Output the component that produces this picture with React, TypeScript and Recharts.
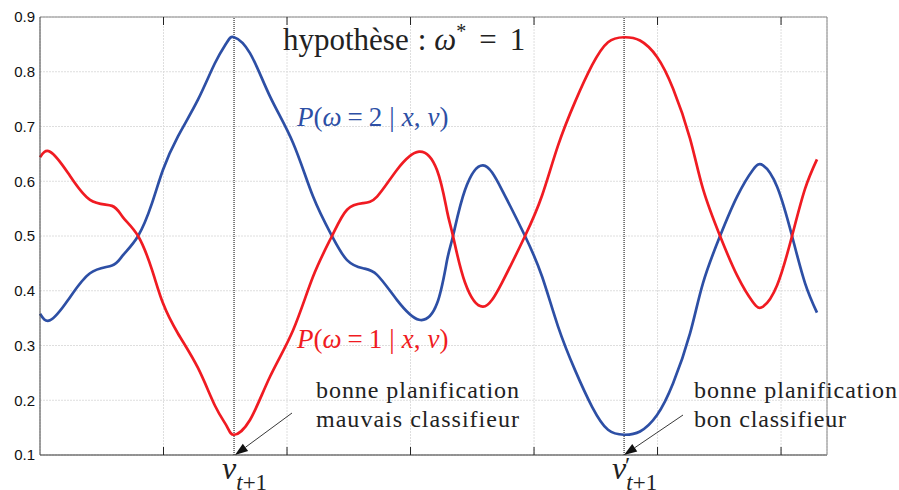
import { LineChart, Line, XAxis, YAxis, CartesianGrid, ReferenceLine } from "recharts";

// sample positions along v (0 .. 2π)
const vPos = [
  0.0, 0.081, 0.227, 0.405, 0.583, 0.672, 0.794, 0.907, 0.996, 1.117, 1.279, 1.417, 1.514, 1.571,
  1.7, 1.862, 2.049, 2.211, 2.364, 2.486, 2.615, 2.729, 2.891, 3.069, 3.215, 3.296, 3.344, 3.441,
  3.587, 3.741, 3.927, 4.065, 4.194, 4.332, 4.47, 4.599, 4.729, 4.858, 4.996, 5.126, 5.263, 5.368,
  5.506, 5.644, 5.773, 5.854, 5.968, 6.089, 6.194, 6.291,
];

// P(ω = 2 | x, v)
const pClass2 = [
  0.358, 0.346, 0.383, 0.432, 0.446, 0.465, 0.5, 0.56, 0.621, 0.682, 0.749, 0.816, 0.854, 0.863,
  0.834, 0.755, 0.67, 0.572, 0.5, 0.456, 0.441, 0.429, 0.383, 0.347, 0.377, 0.456, 0.5, 0.584,
  0.629, 0.584, 0.5, 0.426, 0.335, 0.255, 0.188, 0.146, 0.137, 0.143, 0.173, 0.231, 0.322, 0.414,
  0.5, 0.572, 0.621, 0.629, 0.59, 0.5, 0.414, 0.36,
];

// P(ω = 1 | x, v)
const pClass1 = [
  0.644, 0.654, 0.615, 0.566, 0.555, 0.534, 0.5, 0.438, 0.377, 0.322, 0.259, 0.19, 0.152, 0.137,
  0.164, 0.243, 0.328, 0.426, 0.5, 0.548, 0.56, 0.572, 0.621, 0.654, 0.62, 0.545, 0.5, 0.415,
  0.371, 0.415, 0.5, 0.574, 0.665, 0.745, 0.812, 0.854, 0.863, 0.857, 0.827, 0.769, 0.678, 0.586,
  0.5, 0.428, 0.379, 0.371, 0.41, 0.5, 0.586, 0.64,
];

const yTicks = [0.1, 0.2, 0.3, 0.4, 0.5, 0.6, 0.7, 0.8, 0.9];
const xTicks = [1, 2, 3, 4, 5, 6];
const X_MAX = 6.372;

// planning instants v_{t+1} and v'_{t+1}
const plans = [
  { v: 1.571, prime: false },
  { v: 4.729, prime: true },
];

const data = vPos.map((v, i) => ({ v, p2: pClass2[i], p1: pClass1[i] }));

const BLUE = "#2d4fa5";
const RED = "#f01b22";
const SERIF = "'Liberation Serif', 'DejaVu Serif', serif";

const noLabel = () => <g />;

function PlanLabel(props: any) {
  const { viewBox, prime } = props;
  const x = viewBox.x;
  const y = viewBox.y + viewBox.height;
  return (
    <g>
      <text x={x - 12} y={y + 24} fontFamily={SERIF} fontSize={32} fill="#222">
        <tspan fontStyle="italic">v</tspan>
        <tspan dy={11} fontSize={23}>
          <tspan fontStyle="italic">t</tspan>+1
        </tspan>
      </text>
      {prime && (
        <text x={x + 1} y={y + 18} fontFamily={SERIF} fontSize={24} fill="#222">
          ′
        </text>
      )}
    </g>
  );
}

function Arrow({ x1, y1, x2, y2 }: { x1: number; y1: number; x2: number; y2: number }) {
  const a = Math.atan2(y2 - y1, x2 - x1);
  const len = 13;
  const hw = 4.5;
  const bx = x2 - len * Math.cos(a);
  const by = y2 - len * Math.sin(a);
  const px = -Math.sin(a) * hw;
  const py = Math.cos(a) * hw;
  return (
    <g>
      <line x1={x1} y1={y1} x2={bx} y2={by} stroke="#222" strokeWidth={0.9} />
      <polygon points={`${x2},${y2} ${bx + px},${by + py} ${bx - px},${by - py}`} fill="#111" />
    </g>
  );
}

function ProbLabel({ x, y, k, color }: { x: number; y: number; k: number; color: string }) {
  return (
    <text x={x} y={y} fontFamily={SERIF} fontSize={27} fill={color}>
      <tspan fontStyle="italic">P</tspan>(<tspan fontStyle="italic">ω</tspan>
      <tspan dx={6}>=</tspan>
      <tspan dx={6}>{k}</tspan>
      <tspan dx={7}>|</tspan>
      <tspan dx={7} fontStyle="italic">x</tspan>,<tspan dx={7} fontStyle="italic">v</tspan>)
    </text>
  );
}

export default function App() {
  return (
    <div style={{ position: "absolute", left: 0, top: 0, width: 899, height: 490, background: "#fff" }}>
      <LineChart
        width={899}
        height={490}
        data={data}
        margin={{ top: 17, right: 72, bottom: 35, left: 0 }}
      >
        <CartesianGrid stroke="#dedede" strokeDasharray="2 1" />
        <XAxis
          dataKey="v"
          type="number"
          domain={[0, X_MAX]}
          ticks={xTicks}
          orientation="bottom"
          mirror
          tick={noLabel}
          tickSize={8}
          axisLine={{ stroke: "#333" }}
          tickLine={{ stroke: "#222" }}
        />
        <XAxis
          xAxisId="top"
          dataKey="v"
          type="number"
          domain={[0, X_MAX]}
          ticks={xTicks}
          orientation="top"
          mirror
          tick={noLabel}
          tickSize={8}
          axisLine={{ stroke: "#888" }}
          tickLine={{ stroke: "#222" }}
        />
        <YAxis
          type="number"
          domain={[0.1, 0.9]}
          ticks={yTicks}
          width={40}
          tickSize={3}
          tickMargin={2}
          axisLine={false}
          tickLine={false}
          tickFormatter={(t: number) => t.toFixed(1)}
          tick={{ fontSize: 15, fill: "#111", fontFamily: "'Liberation Sans', Arial, sans-serif" }}
        />
        <YAxis
          yAxisId="leftIn"
          type="number"
          domain={[0.1, 0.9]}
          ticks={yTicks}
          orientation="left"
          mirror
          tick={noLabel}
          tickSize={8}
          axisLine={{ stroke: "#444" }}
          tickLine={{ stroke: "#222" }}
        />
        <YAxis
          yAxisId="rightIn"
          type="number"
          domain={[0.1, 0.9]}
          ticks={yTicks}
          orientation="right"
          mirror
          tick={noLabel}
          tickSize={8}
          axisLine={{ stroke: "#888" }}
          tickLine={{ stroke: "#222" }}
        />
        {plans.map((p) => (
          <ReferenceLine
            key={p.v}
            x={p.v}
            stroke="#000"
            strokeWidth={1}
            strokeDasharray="1 1"
            label={{ content: (lp: any) => <PlanLabel {...lp} prime={p.prime} /> }}
          />
        ))}
        <Line
          dataKey="p2"
          type="natural"
          stroke={BLUE}
          strokeWidth={2.7}
          dot={false}
          isAnimationActive={false}
        />
        <Line
          dataKey="p1"
          type="natural"
          stroke={RED}
          strokeWidth={2.7}
          dot={false}
          isAnimationActive={false}
        />
      </LineChart>

      <svg
        width={899}
        height={490}
        style={{ position: "absolute", left: 0, top: 0, pointerEvents: "none", overflow: "visible" }}
      >
        <text x={283} y={50} fontFamily={SERIF} fontSize={31} fill="#222">
          hypothèse<tspan dx={9}>:</tspan>
          <tspan dx={8} fontStyle="italic">ω</tspan>
          <tspan dy={-12} fontSize={20}>
            *
          </tspan>
          <tspan dx={13} dy={12}>=</tspan>
          <tspan dx={13}>1</tspan>
        </text>

        <ProbLabel x={297} y={126} k={2} color={BLUE} />
        <ProbLabel x={297} y={348} k={1} color={RED} />

        <text x={316} y={398} fontFamily={SERIF} fontSize={24} fill="#222" textLength={203} lengthAdjust="spacing">
          bonne planification
        </text>
        <text x={316} y={427} fontFamily={SERIF} fontSize={24} fill="#222" textLength={203} lengthAdjust="spacing">
          mauvais classifieur
        </text>
        <Arrow x1={292} y1={413} x2={235} y2={455} />

        <text x={694} y={398} fontFamily={SERIF} fontSize={24} fill="#222" textLength={203} lengthAdjust="spacing">
          bonne planification
        </text>
        <text x={694} y={427} fontFamily={SERIF} fontSize={24} fill="#222" textLength={152} lengthAdjust="spacing">
          bon classifieur
        </text>
        <Arrow x1={683} y1={415} x2={624} y2={455} />
      </svg>
    </div>
  );
}
